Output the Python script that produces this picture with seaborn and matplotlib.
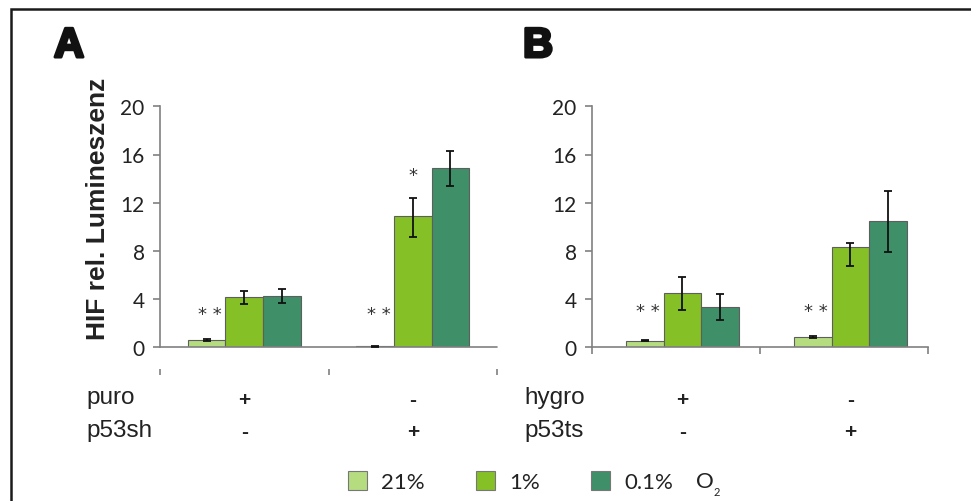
import numpy as np
import pandas as pd
import matplotlib
matplotlib.use("Agg")
import matplotlib.pyplot as plt
import seaborn as sns
from matplotlib.patches import Patch, Rectangle
import matplotlib.patheffects as pe

# ---------------- data ----------------
oxygen = ["21%", "1%", "0.1%"]
groups = ["ctrl", "p53"]

# Panel A (puro / p53sh)
a_21 = [0.60, 0.08]
a_21_lo = [0.05, 0.03]
a_21_hi = [0.05, 0.03]
a_1 = [4.15, 10.90]
a_1_lo = [0.56, 1.74]
a_1_hi = [0.54, 1.47]
a_01 = [4.28, 14.85]
a_01_lo = [0.61, 1.46]
a_01_hi = [0.52, 1.44]

# Panel B (hygro / p53ts)
b_21 = [0.55, 0.83]
b_21_lo = [0.06, 0.09]
b_21_hi = [0.06, 0.09]
b_1 = [4.50, 8.35]
b_1_lo = [1.43, 1.60]
b_1_hi = [1.36, 0.33]
b_01 = [3.32, 10.46]
b_01_lo = [1.08, 2.53]
b_01_hi = [1.08, 2.54]

yticks = [0, 4, 8, 12, 16, 20]
row_labels_A = ["puro", "p53sh"]
row_labels_B = ["hygro", "p53ts"]
signs_row1 = ["+", "-"]
signs_row2 = ["-", "+"]
stars_A = ["* *", "* *"]
stars_B = ["* *", "* *"]
ylabel = "HIF rel. Lumineszenz"

colors = {"21%": "#b6dc80", "1%": "#85c027", "0.1%": "#3f8f69"}

def make_df(v21, v1, v01, l21, l1, l01, h21, h1, h01):
    rows = []
    for vals, lo, hi, ox in [(v21, l21, h21, "21%"), (v1, l1, h1, "1%"), (v01, l01, h01, "0.1%")]:
        for g, v, l, h in zip(groups, vals, lo, hi):
            rows.append(dict(group=g, o2=ox, value=v, lo=l, hi=h))
    return pd.DataFrame(rows)

dfA = make_df(a_21, a_1, a_01, a_21_lo, a_1_lo, a_01_lo, a_21_hi, a_1_hi, a_01_hi)
dfB = make_df(b_21, b_1, b_01, b_21_lo, b_1_lo, b_01_lo, b_21_hi, b_1_hi, b_01_hi)

# ---------------- figure ----------------
sns.set_theme(style="white")
plt.rcParams["font.family"] = ["Liberation Sans", "DejaVu Sans"]

W, H = 971, 502
fig = plt.figure(figsize=(W / 100, H / 100), dpi=100)
fig.patch.set_facecolor("white")

y0px, y20px = 348.3, 107.3
axA = fig.add_axes([160 / W, 1 - y0px / H, 337 / W, (y0px - y20px) / H])
axB = fig.add_axes([592 / W, 1 - y0px / H, 336 / W, (y0px - y20px) / H])

axis_col = "#808080"

def draw_panel(ax, df, shift):
    sns.barplot(data=df, x="group", y="value", hue="o2", order=groups,
                hue_order=oxygen, palette=colors, errorbar=None, width=0.67,
                edgecolor="#5e5e5e", linewidth=0.8, legend=False, ax=ax,
                saturation=1)
    # error bars from bar geometry
    for ox, cont in zip(oxygen, ax.containers):
        sub = df[df.o2 == ox].set_index("group").loc[groups]
        xs = [b.get_x() + b.get_width() / 2 for b in cont]
        ys = [b.get_height() for b in cont]
        ax.errorbar(xs, ys, yerr=[sub["lo"].values, sub["hi"].values], fmt="none",
                    ecolor="#111111", elinewidth=1.3, capsize=2.6, capthick=1.3, zorder=5)
    ax.set_ylim(0, 20)
    ax.set_xlim(-0.5 - shift, 1.5 - shift)
    ax.set_yticks(yticks)
    ax.set_yticklabels([str(t) for t in yticks], family=["Lato", "DejaVu Sans"],
                       fontsize=15, color="#222222")
    ax.set_xlabel("")
    ax.set_ylabel("")
    for s in ["top", "right"]:
        ax.spines[s].set_visible(False)
    ax.spines["left"].set_color(axis_col)
    ax.spines["left"].set_linewidth(1.2)
    ax.tick_params(axis="y", length=5, width=1.2, color=axis_col, direction="out",
                   pad=6, left=True)
    ax.set_facecolor("none")

draw_panel(axA, dfA, 0.0)
draw_panel(axB, dfB, 0.038)

# Panel A: axis line at 0, detached ticks below
axA.spines["bottom"].set_position(("outward", 18))
axA.spines["bottom"].set_visible(False)
axA.axhline(0, color=axis_col, lw=1.2, zorder=1, clip_on=False)
axA.set_xticks([-0.5, 0.5, 1.5])
axA.set_xticklabels(["", "", ""])
axA.tick_params(axis="x", length=5, width=1.2, color=axis_col, direction="inout", bottom=True)

# Panel B: ticks on axis
axB.spines["bottom"].set_color(axis_col)
axB.spines["bottom"].set_linewidth(1.2)
sB = 0.038
axB.set_xticks([-0.5 - sB, 0.5 - sB, 1.5 - sB])
axB.set_xticklabels(["", "", ""])
axB.tick_params(axis="x", length=5, width=1.2, color=axis_col, direction="out", bottom=True)

# significance stars above the 21% bars
for ax, stars, sy in [(axA, stars_A, 2.75), (axB, stars_B, 3.0)]:
    cont = ax.containers[0]
    for b, s in zip(cont, stars):
        ax.text(b.get_x() + b.get_width() / 2 + 0.02, sy, s, ha="center", va="center",
                fontsize=13, color="#333333", family="DejaVu Sans")
cont1 = axA.containers[1]
b = list(cont1)[1]
axA.text(b.get_x() + b.get_width() / 2, 14.3, "*", ha="center", va="center",
         fontsize=13, color="#333333", family="DejaVu Sans")

# y label
fig.text(98 / W, 1 - 208.5 / H, ylabel, rotation=90, ha="center", va="center",
         fontsize=19, fontweight="bold", color="#222222")

# panel letters
for xpx, lab in [(54, "A"), (523, "B")]:
    fig.text(xpx / W, 1 - 58 / H, lab, fontsize=30, fontweight="bold", va="baseline",
             color="#111111",
             path_effects=[pe.withStroke(linewidth=2.2, foreground="#111111")])

# condition table
tbl_font = 17.5
for xpx, labs in [(86, row_labels_A), (524, row_labels_B)]:
    fig.text(xpx / W, 1 - 404 / H, labs[0], fontsize=tbl_font, va="baseline", color="#222222")
    fig.text(xpx / W, 1 - 437.5 / H, labs[1], fontsize=tbl_font, va="baseline", color="#222222")

for ax in [axA, axB]:
    for i, (s1, s2) in enumerate(zip(signs_row1, signs_row2)):
        cont = ax.containers[1]
        bb = list(cont)[i]
        xd = bb.get_x() + bb.get_width() / 2
        xf = fig.transFigure.inverted().transform(ax.transData.transform((xd, 0)))[0]
        fig.text(xf, 1 - 406 / H, s1, fontsize=15, fontweight="bold", ha="center",
                 va="baseline", color="#222222")
        fig.text(xf, 1 - 438.5 / H, s2, fontsize=15, fontweight="bold", ha="center",
                 va="baseline", color="#222222")

# legend
handles = [Patch(facecolor=colors[o], edgecolor="#777777", linewidth=0.8) for o in oxygen]
leg = fig.legend(handles, oxygen, ncol=3, loc="center left",
                 bbox_to_anchor=(348 / W, 1 - 482.5 / H), frameon=False,
                 prop={"family": ["Lato", "DejaVu Sans"], "size": 16},
                 handlelength=0.85, handleheight=0.95, handletextpad=0.65,
                 columnspacing=2.3, borderpad=0, borderaxespad=0)
for t in leg.get_texts():
    t.set_color("#222222")
fig.text(696 / W, 1 - 482.5 / H, "O", fontsize=16, va="center",
         family=["Lato", "DejaVu Sans"], color="#222222")
fig.text(714 / W, 1 - 496 / H, "2", fontsize=8, va="baseline",
         family=["Lato", "DejaVu Sans"], color="#222222")

# figure frame
fig.add_artist(Rectangle((11 / W, -0.2), 1.2, 1.2 - 10 / H, transform=fig.transFigure,
                         fill=False, edgecolor="#1a1a1a", linewidth=1.8, clip_on=False))

fig.savefig("out.png", dpi=100, facecolor="white")
